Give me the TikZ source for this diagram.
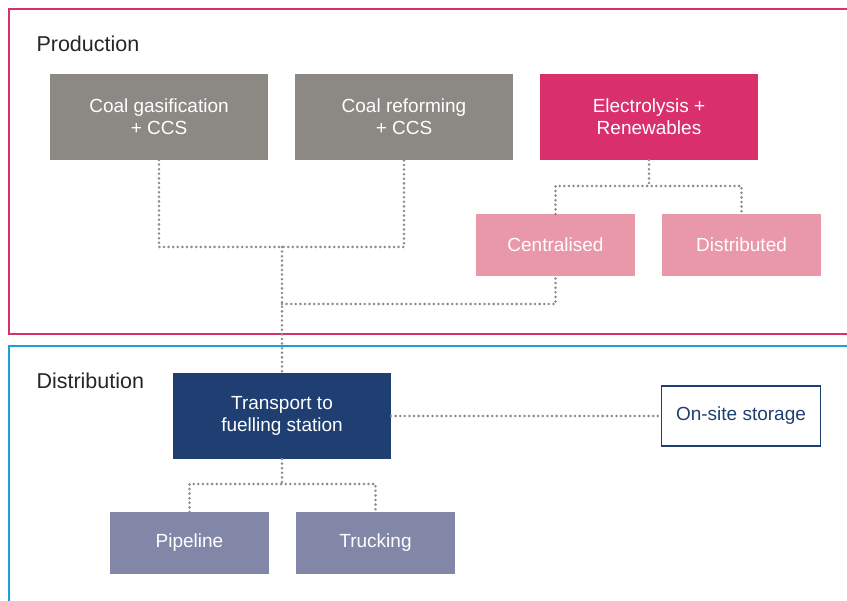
\documentclass[tikz,border=0pt]{standalone}
\usepackage{fontspec}
\setmainfont{Liberation Sans}
\usepackage{tikz}
\usetikzlibrary{positioning,calc}
\definecolor{coalgrey}{HTML}{8C8883}
\definecolor{hotpink}{HTML}{D9306B}
\definecolor{softpink}{HTML}{E898A9}
\definecolor{navyblue}{HTML}{1F3F72}
\definecolor{lavender}{HTML}{8287A8}
\definecolor{skyblue}{HTML}{1BA0D8}
\definecolor{dotgrey}{HTML}{8A8A8A}

\begin{document}
\begin{tikzpicture}[
  x=1pt, y=-1pt, node distance=27pt,
  font=\fontsize{19}{22}\selectfont,
  box/.style={inner sep=0pt, outer sep=0pt, minimum width=218pt, minimum height=86pt, align=center, text=white},
  small/.style={box, minimum width=159pt, minimum height=62pt},
  coal/.style={box, fill=coalgrey}, elec/.style={box, fill=hotpink},
  branch/.style={small, fill=softpink}, route/.style={small, fill=lavender},
  frame/.style={line width=2pt},
  dots/.style={dotgrey, line width=2.8pt, line cap=round, dash pattern=on 0pt off 4.6pt},
  label/.style={anchor=west, font=\fontsize{21.5}{24}\selectfont, text=black!85}]
  \useasboundingbox (0,0) rectangle (847,601);
  % frames
  \draw[frame, hotpink] (850,9) -- (9,9) -- (9,334) -- (850,334);
  \draw[frame, skyblue] (850,346) -- (9,346) -- (9,605);
  \node[label] (prodlbl) at (33,44) {Production};
  \node[label] (distlbl) at (33,381) {Distribution};
  % production
  \node[coal] (gas) at (159,117) {Coal gasification\\+ CCS};
  \node[coal, right=of gas] (reform) {Coal reforming\\+ CCS};
  \node[elec, right=of reform] (electro) {Electrolysis +\\Renewables};
  \node[branch] (central) at (555.5,245) {Centralised};
  \node[branch, right=of central] (distrib) {Distributed};
  % distribution
  \node[box, fill=navyblue] (transport) at (282,416) {Transport to\\fuelling station};
  \node[route] (pipe) at (189.5,543) {Pipeline};
  \node[route, right=of pipe] (truck) {Trucking};
  \node[small, draw=navyblue, line width=1.5pt, minimum height=60pt, text=navyblue] (storage) at (741,416) {On-site storage};
  % connectors
  \coordinate (jcoal) at (282,247);
  \coordinate (jcent) at (282,304);
  \coordinate (jelec) at ($(electro.south)+(0,26)$);
  \coordinate (jroute) at ($(transport.south)+(0,25)$);
  \draw[dots] (gas.south) |- (jcoal) -| (reform.south);
  \draw[dots] (jcoal) -- (transport.north);
  \draw[dots] (jcent) -| (central.south);
  \draw[dots] (electro.south) -- (jelec);
  \draw[dots] (central.north) |- (jelec) -| (distrib.north);
  \draw[dots] (transport.south) -- (jroute);
  \draw[dots] (pipe.north) |- (jroute) -| (truck.north);
  \draw[dots] (transport.east) -- (storage.west);
\end{tikzpicture}
\end{document}
